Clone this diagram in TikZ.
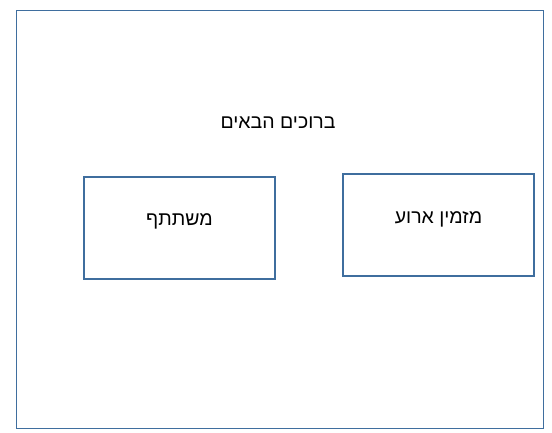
\documentclass[tikz,border=0pt]{standalone}
\usepackage{fontspec}
\setmainfont{Liberation Sans}
\newfontfamily\hebfont[Script=Hebrew]{Liberation Sans}
\TeXXeTstate=1
\usetikzlibrary{positioning}
\definecolor{accent}{HTML}{3F6E9E}

\begin{document}
\begin{tikzpicture}[
      x=1pt, y=-1pt,
      frame/.style={rectangle, draw=accent, line width=1.3pt, fill=white},
      box/.style={rectangle, draw=accent, line width=1.3pt, fill=white,
                  minimum width=191pt, minimum height=102pt, inner sep=0pt},
      txt/.style={font=\hebfont\fontsize{19.5}{22}\selectfont, inner sep=0pt}
    ]
      \useasboundingbox (0,0) rectangle (552,432);
      \node[frame, minimum width=527pt, minimum height=418pt, anchor=north west] (page) at (16,10) {};
      \node[txt] (title) at (278,123) {\beginR ברוכים הבאים\endR};
      \node[box, label={[txt, yshift=7pt]center:\beginR משתתף\endR}] (guest) at (179.5,228) {};
      \node[box, label={[txt, yshift=6pt]center:\beginR מזמין ארוע\endR}] (host) at (438.5,225) {};
    \end{tikzpicture}
\end{document}
